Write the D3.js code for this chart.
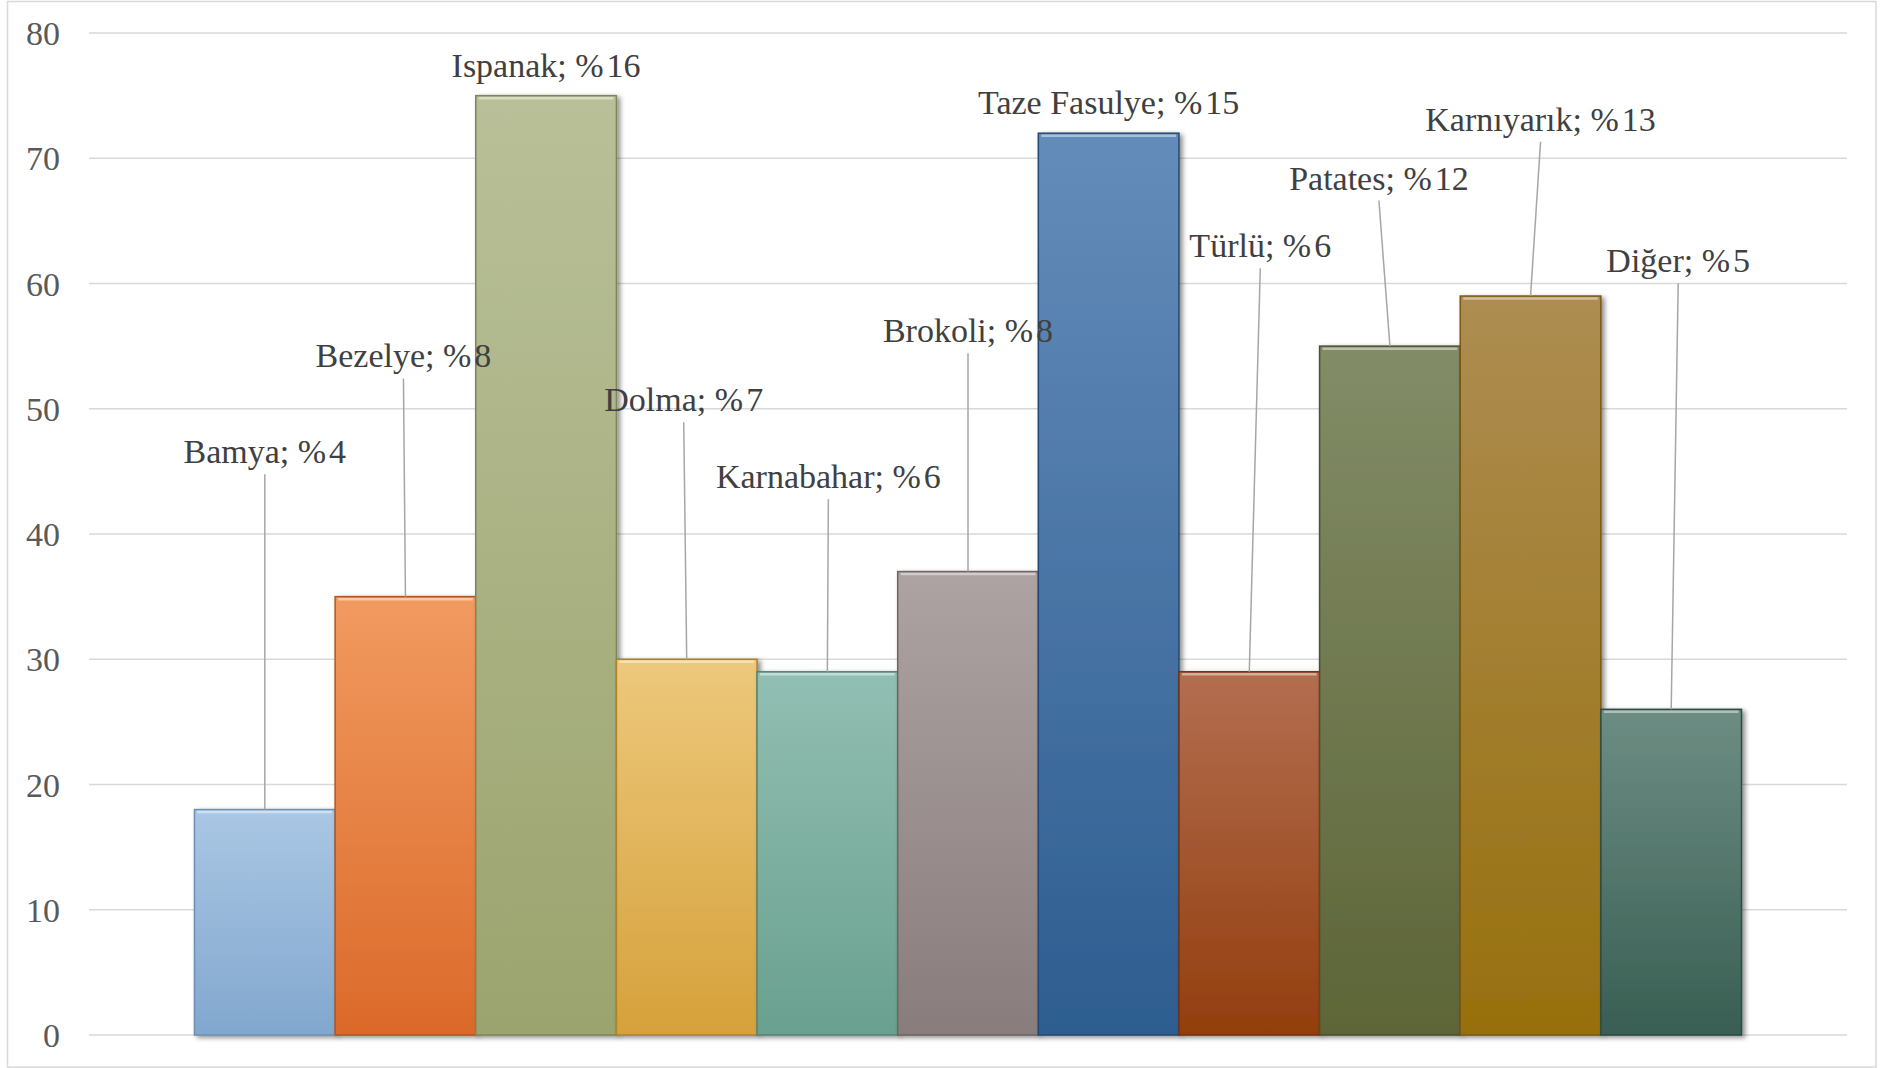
<!DOCTYPE html>
<html>
<head>
<meta charset="utf-8">
<script src="https://cdn.jsdelivr.net/npm/d3@7"></script>
<style>
  html, body { margin: 0; padding: 0; background: #ffffff; }
  svg { display: block; }
</style>
</head>
<body>
<svg id="chart" width="1883" height="1068"></svg>
<script>
// ---- Data ----
const categories = ["Bamya", "Bezelye", "Ispanak", "Dolma", "Karnabahar", "Brokoli",
                    "Taze Fasulye", "Türlü", "Patates", "Karnıyarık", "Diğer"];
const values = [18, 35, 75, 30, 29, 37, 72, 29, 55, 59, 26];
const percentLabels = ["4", "8", "16", "7", "6", "8", "15", "6", "12", "13", "5"];
const yTicks = [0, 10, 20, 30, 40, 50, 60, 70, 80];
// label placement (baseline height in axis units; horizontal shift in px)
const labelAt = [45.65, 53.3, 76.5, 49.8, 43.65, 55.3, 73.5, 62.1, 67.5, 72.2, 60.9];
const labelShift = [0, -2, 0, -3, 1, 0, 0, 11, -11, 10, 7];
const hasLeader = [true, true, false, true, true, true, false, true, true, true, true];
// bar colours: [top, bottom, edge]
const barColors = [
  ["#aac7e4", "#82a7ce", "#6d8fb3"],
  ["#f19a60", "#db6a2a", "#b4551f"],
  ["#b9c099", "#9ba46e", "#7d8656"],
  ["#edc87c", "#d5a13b", "#ae822c"],
  ["#92bfb3", "#69a08f", "#54857a"],
  ["#ada3a3", "#897c7c", "#6f6464"],
  ["#648cba", "#2e5d90", "#244a74"],
  ["#b36e50", "#933e0e", "#76320b"],
  ["#828c67", "#5d6537", "#4a512b"],
  ["#ad8d52", "#97700e", "#79590b"],
  ["#6d8d83", "#395e53", "#2d4a42"]
];

// ---- Layout ----
const plot = { left: 89, right: 1847, top: 33, bottom: 1035 };

const svg = d3.select("#chart");
const defs = svg.append("defs");

// outer chart border
svg.append("rect")
  .attr("x", 7.5).attr("y", 1.5)
  .attr("width", 1876 - 7.5).attr("height", 1067 - 1.5)
  .attr("fill", "#ffffff").attr("stroke", "#d9d9d9").attr("stroke-width", 1.5);

const x = d3.scaleBand()
  .domain(categories)
  .range([plot.left, plot.right])
  .paddingInner(0)
  .paddingOuter(0.75);

const y = d3.scaleLinear()
  .domain([0, 80])
  .range([plot.bottom, plot.top]);

// gridlines
svg.append("g")
  .selectAll("line")
  .data(yTicks)
  .join("line")
  .attr("x1", plot.left).attr("x2", plot.right)
  .attr("y1", d => y(d)).attr("y2", d => y(d))
  .attr("stroke", "#d9d9d9").attr("stroke-width", 1.5);

// y axis labels
const yAxis = d3.axisLeft(y).tickValues(yTicks).tickSize(0).tickPadding(0);
const gy = svg.append("g")
  .attr("transform", `translate(60,0)`)
  .call(yAxis);
gy.select(".domain").remove();
gy.selectAll("text")
  .attr("font-family", "'Liberation Serif', 'Times New Roman', serif")
  .attr("font-size", 34)
  .attr("fill", "#595959")
  .attr("dy", "0.34em");

// shadow filter
const filt = defs.append("filter").attr("id", "shadow")
  .attr("x", "-10%").attr("y", "-10%").attr("width", "130%").attr("height", "120%");
filt.append("feGaussianBlur").attr("in", "SourceAlpha").attr("stdDeviation", 2.5).attr("result", "b");
filt.append("feOffset").attr("in", "b").attr("dx", 3).attr("dy", 2).attr("result", "o");
filt.append("feComponentTransfer").attr("in", "o").attr("result", "s")
  .append("feFuncA").attr("type", "linear").attr("slope", 0.45);
const merge = filt.append("feMerge");
merge.append("feMergeNode").attr("in", "s");
merge.append("feMergeNode").attr("in", "SourceGraphic");

// gradients
barColors.forEach((c, i) => {
  const g = defs.append("linearGradient").attr("id", "grad" + i)
    .attr("x1", 0).attr("y1", 0).attr("x2", 0).attr("y2", 1);
  g.append("stop").attr("offset", "0%").attr("stop-color", c[0]);
  g.append("stop").attr("offset", "100%").attr("stop-color", c[1]);
});

const data = categories.map((c, i) => ({ c, v: values[i], i }));

// bars
const bars = svg.append("g");
bars.selectAll("rect.bar")
  .data(data)
  .join("rect")
  .attr("class", "bar")
  .attr("x", d => x(d.c))
  .attr("y", d => y(d.v))
  .attr("width", x.bandwidth())
  .attr("height", d => y(0) - y(d.v))
  .attr("fill", d => `url(#grad${d.i})`)
  .attr("stroke", d => barColors[d.i][2])
  .attr("stroke-width", 1.5)
  .attr("filter", "url(#shadow)");

// top bevel highlight
bars.selectAll("line.hl")
  .data(data)
  .join("line")
  .attr("class", "hl")
  .attr("x1", d => x(d.c) + 3)
  .attr("x2", d => x(d.c) + x.bandwidth() - 3)
  .attr("y1", d => y(d.v) + 2.5)
  .attr("y2", d => y(d.v) + 2.5)
  .attr("stroke", "#ffffff").attr("stroke-opacity", 0.45).attr("stroke-width", 2.5);

// leader lines
svg.append("g")
  .selectAll("line")
  .data(data.filter(d => hasLeader[d.i]))
  .join("line")
  .attr("x1", d => x(d.c) + x.bandwidth() / 2 + labelShift[d.i])
  .attr("y1", d => y(labelAt[d.i]) + 11)
  .attr("x2", d => x(d.c) + x.bandwidth() / 2)
  .attr("y2", d => y(d.v))
  .attr("stroke", "#a6a6a6").attr("stroke-width", 1.5);

// data labels
const lbl = svg.append("g")
  .selectAll("text")
  .data(data)
  .join("text")
  .attr("x", d => x(d.c) + x.bandwidth() / 2 + labelShift[d.i])
  .attr("y", d => y(labelAt[d.i]))
  .attr("text-anchor", "middle")
  .attr("font-family", "'Liberation Serif', 'Times New Roman', serif")
  .attr("font-size", 34)
  .attr("fill", "#404040");
lbl.append("tspan").text(d => `${d.c}; %`);
lbl.append("tspan").attr("dx", 3).text(d => percentLabels[d.i]);
</script>
</body>
</html>
